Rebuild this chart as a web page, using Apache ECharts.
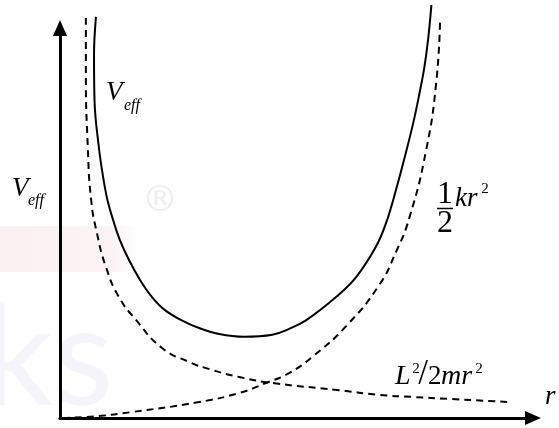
<!DOCTYPE html>
<html>
<head>
<meta charset="utf-8">
<script src="https://cdn.jsdelivr.net/npm/echarts@6/dist/echarts.min.js"></script>
<style>
  html, body { margin: 0; padding: 0; background: #ffffff; }
  #chart { width: 559px; height: 428px; }
</style>
</head>
<body>
<div id="chart"></div>
<script>
// Effective potential V_eff(r) = L^2/2mr^2 + (1/2)kr^2, sketched in arbitrary units.
// Each curve is a list of [r, V] pairs.
const veffCurve = [
  [0.75, 10.08], [0.71, 9.12], [0.72, 7.99], [0.81, 6.81], [0.91, 5.98],
  [0.99, 5.48], [1.11, 4.97], [1.25, 4.47], [1.44, 3.97], [1.67, 3.47],
  [1.92, 3.04], [2.19, 2.71], [2.53, 2.46], [2.90, 2.26], [3.32, 2.11],
  [3.84, 2.04], [4.43, 2.09], [4.78, 2.24], [5.14, 2.46], [5.76, 3.04],
  [6.18, 3.54], [6.60, 4.32], [6.81, 4.92], [7.01, 5.73], [7.22, 6.68],
  [7.37, 7.41], [7.49, 8.09], [7.60, 8.79], [7.68, 9.50], [7.75, 10.38]
];
const centrifugalCurve = [
  [0.54, 10.05], [0.54, 8.67], [0.58, 6.81], [0.65, 5.48], [0.77, 4.65],
  [0.96, 3.79], [1.23, 3.04], [1.59, 2.46], [2.13, 1.76], [2.69, 1.41],
  [3.17, 1.21], [3.74, 1.03], [4.43, 0.88], [5.82, 0.70], [6.66, 0.58],
  [7.35, 0.53], [8.12, 0.48], [9.37, 0.40]
];
const springCurve = [
  [0.06, 0.00], [0.81, 0.05], [1.50, 0.15], [2.90, 0.40], [3.74, 0.63],
  [4.30, 0.88], [4.78, 1.13], [5.26, 1.53], [5.97, 2.31], [6.66, 3.34],
  [7.01, 4.17], [7.29, 5.03], [7.64, 6.73], [7.85, 8.42], [7.93, 9.95]
];
const rRange = [0, 9.87];
const vRange = [0, 9.8];

const serif = '"Liberation Serif", "DejaVu Serif", serif';

function txt(text, x, y, size, opts) {
  opts = opts || {};
  return {
    type: 'text',
    x: x, y: y, z: 10,
    style: {
      text: text,
      font: (opts.italic ? 'italic ' : '') + size + 'px ' + serif,
      fill: '#000',
      textAlign: opts.align || 'left',
      textVerticalAlign: 'middle'
    }
  };
}

const chart = echarts.init(document.getElementById('chart'), null, { renderer: 'canvas' });

const axisCommon = {
  type: 'value',
  axisTick: { show: false },
  axisLabel: { show: false },
  splitLine: { show: false },
  axisLine: {
    show: true,
    onZero: false,
    symbol: ['none', 'triangle'],
    symbolSize: [14, 16],
    lineStyle: { color: '#000', width: 3 }
  }
};

const dashed = { color: '#000', width: 2, type: [7, 5] };

chart.setOption({
  animation: false,
  backgroundColor: '#ffffff',
  grid: { left: 60, right: 26, top: 28, bottom: 10 },
  xAxis: Object.assign({}, axisCommon, { min: rRange[0], max: rRange[1] }),
  yAxis: Object.assign({}, axisCommon, { min: vRange[0], max: vRange[1] }),
  series: [
    {
      name: 'Veff', type: 'line', data: veffCurve, smooth: 0.4,
      showSymbol: false, clip: false,
      lineStyle: { color: '#000', width: 2 }
    },
    {
      name: 'centrifugal', type: 'line', data: centrifugalCurve, smooth: 0.5,
      showSymbol: false, clip: false, lineStyle: dashed
    },
    {
      name: 'spring', type: 'line', data: springCurve, smooth: 0.5,
      showSymbol: false, clip: false, lineStyle: dashed
    }
  ],
  graphic: [
    // faint background stamp
    { type: 'rect', z: -1, shape: { x: 0, y: 226, width: 140, height: 46 },
      style: { fill: new echarts.graphic.LinearGradient(0, 0, 1, 0, [
        { offset: 0, color: 'rgba(235, 190, 190, 0.22)' },
        { offset: 0.8, color: 'rgba(235, 190, 200, 0.18)' },
        { offset: 1, color: 'rgba(235, 190, 200, 0)' }
      ]) } },
    { type: 'text', z: -1, x: -18, y: 360,
      style: { text: 'ks', font: '140px Lato, "Open Sans", sans-serif',
               fill: 'rgba(205, 205, 230, 0.22)', textVerticalAlign: 'middle' } },
    { type: 'text', z: -1, x: 160, y: 202,
      style: { text: '\u00AE', font: '36px "DejaVu Sans", sans-serif',
               fill: 'rgba(205, 205, 205, 0.35)', textAlign: 'center', textVerticalAlign: 'middle' } },

    // axis label V_eff
    txt('V', 12, 189, 27, { italic: true }),
    txt('eff', 28, 201, 16, { italic: true }),
    // curve label V_eff
    txt('V', 106, 93, 27, { italic: true }),
    txt('eff', 124, 106, 16, { italic: true }),
    // (1/2) k r^2
    txt('1', 445, 195, 32, { align: 'center' }),
    { type: 'line', z: 10, shape: { x1: 437, y1: 208.5, x2: 453, y2: 208.5 },
      style: { stroke: '#000', lineWidth: 1.5 } },
    txt('2', 445, 224, 32, { align: 'center' }),
    txt('kr', 455, 199, 27, { italic: true }),
    txt('2', 485, 189, 15, { align: 'center' }),
    // L^2 / 2 m r^2
    txt('L', 395, 377, 28, { italic: true }),
    txt('2', 416, 369, 15, { align: 'center' }),
    txt('/', 423, 375, 35, { align: 'center' }),
    txt('2', 428, 377, 27),
    txt('mr', 441, 377, 28, { italic: true }),
    txt('2', 479, 369, 15, { align: 'center' }),
    // r
    txt('r', 545, 397, 27, { italic: true })
  ]
});
</script>
</body>
</html>
